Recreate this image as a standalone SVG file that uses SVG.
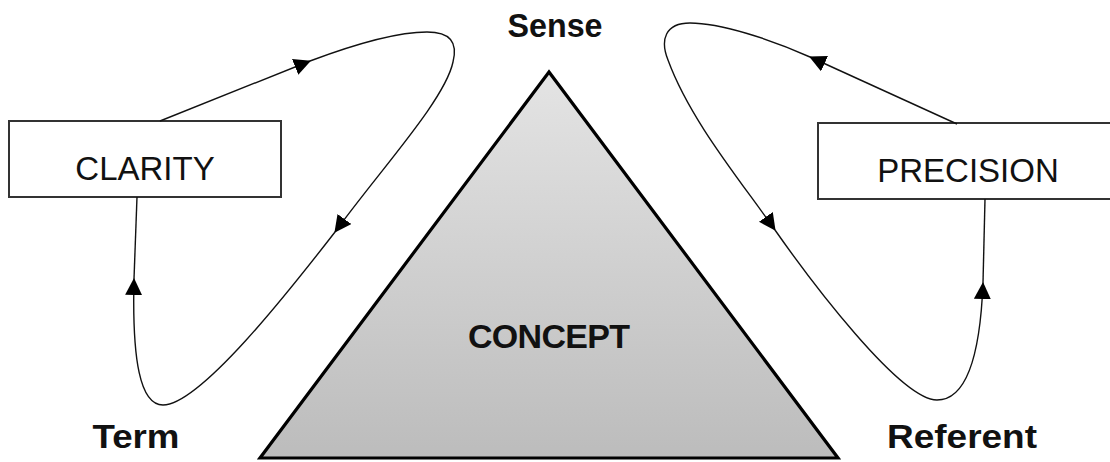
<svg xmlns="http://www.w3.org/2000/svg" width="1110" height="462" viewBox="0 0 1110 462">
  <style>
    .lbl { font-family: "Liberation Sans", Arial, sans-serif; font-weight: bold; font-size: 34px; fill: #111; text-anchor: middle; }
    .box { fill: #ffffff; stroke: #333; stroke-width: 2; }
    .boxtxt { font-family: "Liberation Sans", Arial, sans-serif; font-size: 33px; fill: #111; text-anchor: middle; }
    .conn { fill: none; stroke: #111; stroke-width: 1.4; }
    .arr { marker-end: url(#arrow); }
  </style>
  <defs>
    <linearGradient id="triGrad" x1="0" y1="0" x2="0" y2="1">
      <stop offset="0" stop-color="#e4e4e4"/>
      <stop offset="1" stop-color="#bcbcbc"/>
    </linearGradient>
    <marker id="arrow" markerUnits="userSpaceOnUse" markerWidth="17" markerHeight="17" viewBox="0 0 17 17" refX="16" refY="8.5" orient="auto">
      <path d="M0,0 L17,8.5 L0,17 z" fill="#000"/>
    </marker>
  </defs>

  <g id="node-concept">
    <polygon points="549,72 260,458 838,458" fill="url(#triGrad)" stroke="#000" stroke-width="3.2" stroke-linejoin="miter"/>
    <text class="lbl" x="549" y="348" textLength="162" lengthAdjust="spacing">CONCEPT</text>
  </g>

  <g id="node-sense">
    <text class="lbl" x="555" y="37" textLength="95" lengthAdjust="spacingAndGlyphs">Sense</text>
  </g>

  <g id="node-term">
    <text class="lbl" x="136" y="448" textLength="87" lengthAdjust="spacingAndGlyphs">Term</text>
  </g>

  <g id="node-referent">
    <text class="lbl" x="962" y="448" textLength="150" lengthAdjust="spacingAndGlyphs">Referent</text>
  </g>

  <g id="node-clarity">
    <rect class="box" x="9" y="121" width="272" height="76"/>
    <text class="boxtxt" x="145" y="180">CLARITY</text>
  </g>

  <g id="node-precision">
    <rect class="box" x="818" y="123" width="300" height="76"/>
    <text class="boxtxt" x="968" y="182">PRECISION</text>
  </g>

  <g id="connectors">
    <!-- Left loop: Clarity <-> Sense <-> Term -->
    <path class="conn arr" d="M160,121 L310,61"/>
    <path class="conn arr" d="M310,61 C350,46 395,32 427,32 C450,32 458,42 453,62 C445,100 380,170 335,232"/>
    <path class="conn arr" d="M335,232 C290,290 200,405 163,405 C140,405 132,360 134,279"/>
    <path class="conn" d="M134,279 L137,197"/>

    <!-- Right loop: Precision <-> Sense <-> Referent -->
    <path class="conn arr" d="M957,124 L810,57"/>
    <path class="conn arr" d="M810,57 C770,39 720,23 690,23 C665,23 660,40 668,60 C690,120 740,180 775,230"/>
    <path class="conn arr" d="M775,230 C810,280 900,400 937,400 C965,400 980,360 983,283"/>
    <path class="conn" d="M983,283 L985,199"/>
  </g>
</svg>
